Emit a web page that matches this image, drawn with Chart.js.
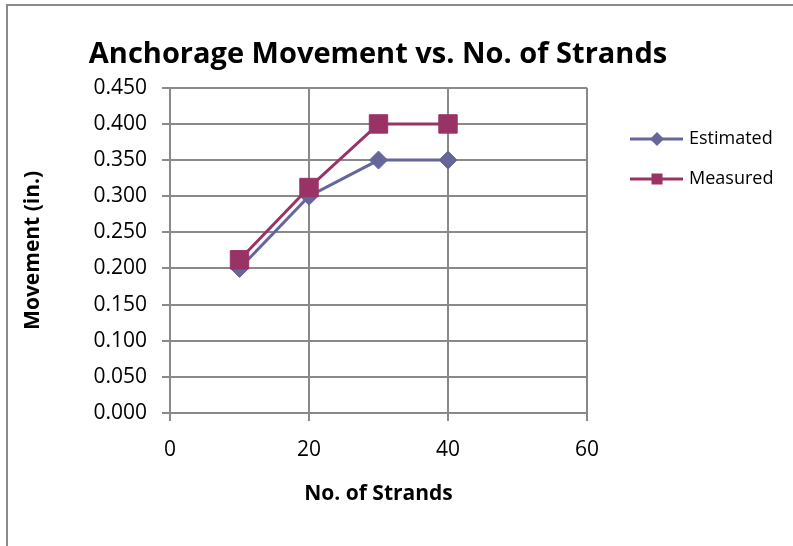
<!DOCTYPE html>
<html>
<head>
<meta charset="utf-8">
<title>Anchorage Movement vs. No. of Strands</title>
<script src="https://cdn.jsdelivr.net/npm/chart.js@4.4.1/dist/chart.umd.min.js"></script>
<style>
  html, body { margin: 0; padding: 0; background: #fff; overflow: hidden; }
  #wrap { position: relative; width: 793px; height: 546px; }
  #frame { position: absolute; left: 6px; top: 4px; width: 900px; height: 700px;
           border-left: 2px solid #8a8a8a; border-top: 2px solid #8a8a8a; pointer-events: none; }
  canvas { position: absolute; left: 0; top: 0; }
</style>
</head>
<body>
<div id="wrap">
  <canvas id="chart" width="793" height="546"></canvas>
  <div id="frame"></div>
</div>
<script>
// data
const strands   = [10, 20, 30, 40];
const estimated = [0.200, 0.300, 0.350, 0.350];
const measured  = [0.212, 0.312, 0.400, 0.400];
const xTicks = [0, 20, 40, 60];
const yTicks = [0, 0.05, 0.10, 0.15, 0.20, 0.25, 0.30, 0.35, 0.40, 0.45];

const FONT = 'Open Sans';
const GRID = '#898989';

const pts = (xs, ys) => xs.map((x, i) => ({ x: x, y: ys[i] }));

/* LEGEND - line with marker, excel style */
const lineLegend = {
  id: 'lineLegend',
  afterDraw(chart) {
    const ctx = chart.ctx;
    const rows = [139, 179];
    chart.data.datasets.forEach((ds, i) => {
      const y = rows[i];
      ctx.save();
      ctx.strokeStyle = ds.borderColor;
      ctx.lineWidth = 3;
      ctx.beginPath();
      ctx.moveTo(630, y);
      ctx.lineTo(683, y);
      ctx.stroke();
      ctx.fillStyle = ds.borderColor;
      ctx.beginPath();
      if (ds.pointStyle === 'rectRot') {
        const r = 7;
        ctx.moveTo(657 - r, y); ctx.lineTo(657, y - r);
        ctx.lineTo(657 + r, y); ctx.lineTo(657, y + r);
      } else {
        ctx.rect(657 - 5.5, y - 5.5, 11, 11);
      }
      ctx.closePath();
      ctx.fill();
      ctx.fillStyle = '#000';
      ctx.font = '18px ' + FONT;
      ctx.textBaseline = 'middle';
      ctx.fillText(ds.label, 689, y);
      ctx.restore();
    });
  }
};

new Chart(document.getElementById('chart'), {
  type: 'line',
  data: {
    datasets: [
      { label: 'Estimated', data: pts(strands, estimated), borderColor: '#666699', backgroundColor: '#666699',
        borderWidth: 3, pointStyle: 'rectRot', pointRadius: 9, pointBorderWidth: 1, order: 1 },
      { label: 'Measured', data: pts(strands, measured), borderColor: '#993366', backgroundColor: '#993366',
        borderWidth: 3, pointStyle: 'rect', pointRadius: 13, pointBorderWidth: 1, order: 0 }
    ]
  },
  options: {
    responsive: false,
    animation: false,
    // right padding + empty right axis keep the title centred like the original
    layout: { padding: { left: 0, right: 37, top: 0, bottom: 0 } },
    plugins: {
      legend: { display: false },
      tooltip: { enabled: false },
      title: {
        display: true,
        text: 'Anchorage Movement vs. No. of Strands',
        color: '#000',
        font: { family: FONT, size: 29, weight: 'bold' },
        padding: { top: 37, bottom: 16 }
      }
    },
    scales: {
      x: {
        type: 'linear', min: 0, max: 60,
        afterBuildTicks: s => { s.ticks = xTicks.map(v => ({ value: v })); },
        afterFit: s => { s.height = 133; },
        ticks: { color: '#000', font: { family: FONT, size: 21 }, padding: 16 },
        grid: { color: GRID, lineWidth: 2, tickLength: 8, tickColor: GRID },
        border: { color: GRID, width: 2 },
        title: { display: true, text: 'No. of Strands', color: '#000',
                 font: { family: FONT, size: 21, weight: 'bold' }, padding: { top: 0, bottom: 39 } }
      },
      y: {
        min: 0, max: 0.45,
        afterBuildTicks: s => { s.ticks = yTicks.map(v => ({ value: v })); },
        afterFit: s => { s.width = 170; },
        ticks: { color: '#000', font: { family: FONT, size: 21 }, padding: 15,
                 callback: v => v.toFixed(3) },
        grid: { color: GRID, lineWidth: 2, tickLength: 8, tickColor: GRID },
        border: { color: GRID, width: 2 },
        title: { display: true, text: 'Movement (in.)', color: '#000',
                 font: { family: FONT, size: 21, weight: 'bold' }, padding: { top: 20, bottom: 0 } }
      },
      side: {
        position: 'right',
        afterFit: s => { s.width = 169; },
        ticks: { display: false },
        grid: { display: false, drawTicks: false },
        border: { display: false }
      }
    }
  },
  plugins: [lineLegend]
});
</script>
</body>
</html>
